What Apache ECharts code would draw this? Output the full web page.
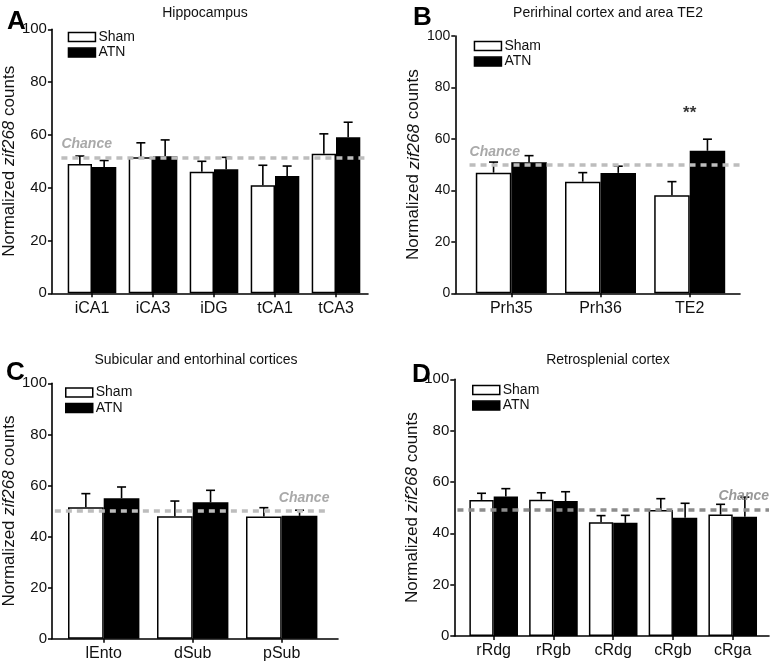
<!DOCTYPE html>
<html>
<head>
<meta charset="utf-8">
<script src="https://cdn.jsdelivr.net/npm/echarts@6/dist/echarts.min.js"></script>
<style>
  html, body { margin: 0; padding: 0; background: #fff; }
  #chart { width: 772px; height: 663px; }
</style>
</head>
<body>
<div id="chart"></div>
<script>
// ---- data ----
var aCats = ['iCA1', 'iCA3', 'iDG', 'tCA1', 'tCA3'];
var aSham = [49.0, 51.5, 46.0, 40.9, 52.9];
var aShamSem = [3.0, 5.5, 4.0, 7.6, 7.5];
var aAtn = [47.8, 51.9, 47.0, 44.4, 59.1];
var aAtnSem = [2.5, 6.2, 4.5, 3.8, 5.7];
var aChance = 51.5;

var bCats = ['Prh35', 'Prh36', 'TE2'];
var bSham = [46.9, 43.4, 38.1];
var bShamSem = [4.1, 3.5, 5.3];
var bAtn = [50.9, 46.8, 55.4];
var bAtnSem = [2.6, 2.6, 4.5];
var bChance = 50;
var bSig = ['', '', '**'];

var cCats = ['lEnto', 'dSub', 'pSub'];
var cSham = [51.5, 47.9, 47.8];
var cShamSem = [5.3, 6.0, 3.5];
var cAtn = [55.0, 53.4, 48.1];
var cAtnSem = [4.4, 4.7, 2.2];
var cChance = 50;

var dCats = ['rRdg', 'rRgb', 'cRdg', 'cRgb', 'cRga'];
var dSham = [53.0, 53.1, 44.3, 49.1, 47.3];
var dShamSem = [2.6, 2.7, 2.6, 4.4, 4.0];
var dAtn = [54.3, 52.6, 44.1, 46.1, 46.5];
var dAtnSem = [3.1, 3.6, 2.9, 5.6, 7.6];
var dChance = 49.3;

var yTicks = [0, 20, 40, 60, 80, 100];

// ---- layout of each panel (pixels) ----
var FONT = '"Liberation Sans", Arial, sans-serif';
var panels = [
  { letter: 'A', title: 'Hippocampus', titleX: 200, titleY: 1, letterX: 2, letterY: 4,
    cats: aCats, sham: aSham, shamSem: aShamSem, atn: aAtn, atnSem: aAtnSem, chance: aChance,
    axisL: 48, axisR: 368, top: 29.3, bottom: 293.3, barL: 61.5, barR: 366.5, bw: 24.3,
    nameGap: 30, tickFont: 15, legL: 67.7, legT: 30, chanceCol: '#bdbdbd', chanceTxt: '#a9a9a9',
    chanceFrom: 3, chanceTo: 100, chancePos: 'insideStartTop' },
  { letter: 'B', title: 'Perirhinal cortex and area TE2', titleX: 603, titleY: 1, letterX: 408, letterY: 0,
    cats: bCats, sham: bSham, shamSem: bShamSem, atn: bAtn, atnSem: bAtnSem, chance: bChance, sig: bSig,
    axisL: 455.3, axisR: 740, top: 36, bottom: 293.3, barL: 466.7, barR: 734.3, bw: 35.5,
    nameGap: 33, tickFont: 14, legL: 473.7, legT: 39, chanceCol: '#bdbdbd', chanceTxt: '#a9a9a9',
    chanceFrom: 5, chanceTo: 100, chancePos: 'insideStartTop' },
  { letter: 'C', title: 'Subicular and entorhinal cortices', titleX: 191, titleY: 348, letterX: 1, letterY: 355,
    cats: cCats, sham: cSham, shamSem: cShamSem, atn: cAtn, atnSem: cAtnSem, chance: cChance,
    axisL: 50.7, axisR: 338, top: 383.3, bottom: 638.7, barL: 59.2, barR: 326.2, bw: 35.7,
    nameGap: 34, tickFont: 15, legL: 65, legT: 385.5, chanceCol: '#bdbdbd', chanceTxt: '#a9a9a9',
    chanceFrom: 1, chanceTo: 97, chancePos: 'insideEndTop' },
  { letter: 'D', title: 'Retrosplenial cortex', titleX: 603, titleY: 348, letterX: 407, letterY: 357,
    cats: dCats, sham: dSham, shamSem: dShamSem, atn: dAtn, atnSem: dAtnSem, chance: dChance,
    axisL: 454.3, axisR: 769, top: 379.3, bottom: 636, barL: 463.8, barR: 762.6, bw: 24.3,
    nameGap: 32, tickFont: 15, legL: 472, legT: 383, chanceCol: '#8c8c8c', chanceTxt: '#9a9a9a',
    chanceFrom: 1, chanceTo: 100, chancePos: 'insideEndTop' }
];

var W = 772, H = 663;

function errRender(offset, cap) {
  return function (params, api) {
    var base = api.coord([api.value(0), api.value(1)]);
    var top = api.coord([api.value(0), api.value(2)]);
    var x = base[0] + offset;
    var st = { stroke: '#000', lineWidth: 1.6 };
    return {
      type: 'group',
      children: [
        { type: 'line', shape: { x1: x, y1: base[1], x2: x, y2: top[1] }, style: st },
        { type: 'line', shape: { x1: x - cap, y1: top[1], x2: x + cap, y2: top[1] }, style: st }
      ]
    };
  };
}

function errData(means, sems) {
  return means.map(function (m, i) { return [i, m, m + sems[i]]; });
}

var option = {
  animation: false,
  backgroundColor: '#fff',
  title: [], grid: [], xAxis: [], yAxis: [], legend: [], series: []
};

panels.forEach(function (p, k) {
  var gFrame = k * 2, gBars = k * 2 + 1;
  var bottomPx = H - p.bottom;

  option.title.push({
    text: p.title, left: p.titleX, top: p.titleY, textAlign: 'center',
    textStyle: { fontFamily: FONT, fontSize: 14, fontWeight: 'normal', color: '#111' }
  });
  option.title.push({
    text: p.letter, left: p.letterX, top: p.letterY,
    textStyle: { fontFamily: FONT, fontSize: 26, fontWeight: 'bold', color: '#000' }
  });

  // frame grid: y axis and the bottom axis line
  option.grid.push({ left: p.axisL, width: p.axisR - p.axisL, top: p.top, bottom: bottomPx });
  // bar grid: category bands
  option.grid.push({ left: p.barL, width: p.barR - p.barL, top: p.top, bottom: bottomPx });

  option.xAxis.push({
    type: 'value', gridIndex: gFrame, min: 0, max: 100,
    axisLine: { show: true, lineStyle: { color: '#000', width: 1.6 } },
    axisTick: { show: false }, axisLabel: { show: false }, splitLine: { show: false }
  });
  option.xAxis.push({
    type: 'category', gridIndex: gBars, data: p.cats,
    axisLine: { show: false },
    axisTick: { show: true, alignWithLabel: true, length: 4, lineStyle: { color: '#000', width: 1.5 } },
    axisLabel: { fontFamily: FONT, fontSize: 16, color: '#111', margin: 7 },
    splitLine: { show: false }
  });

  option.yAxis.push({
    type: 'value', gridIndex: gFrame, min: 0, max: 100, interval: 20,
    name: '{n|Normalized }{i|zif268}{n| counts}',
    nameLocation: 'middle', nameRotate: 90, nameGap: p.nameGap,
    nameTextStyle: {
      rich: {
        n: { fontFamily: FONT, fontSize: 17, color: '#111' },
        i: { fontFamily: FONT, fontSize: 17, fontStyle: 'italic', color: '#111' }
      }
    },
    axisLine: { show: true, lineStyle: { color: '#000', width: 1.6 } },
    axisTick: { show: true, length: 4, lineStyle: { color: '#000', width: 1.5 } },
    axisLabel: {
      fontFamily: FONT, fontSize: p.tickFont, color: '#111', margin: 5,
      formatter: function (v) { return yTicks.indexOf(v) >= 0 ? String(v) : ''; }
    },
    splitLine: { show: false }
  });
  option.yAxis.push({ type: 'value', gridIndex: gBars, min: 0, max: 100, show: false });

  option.legend.push({
    orient: 'vertical', left: p.legL, top: p.legT,
    itemWidth: 27, itemHeight: 9, itemGap: 1.6, padding: 0,
    textStyle: { fontFamily: FONT, fontSize: 14, color: '#111', lineHeight: 14, padding: [0, 0, 0, -2] },
    data: [
      { name: 'Sham', icon: 'rect', itemStyle: { color: '#fff', borderColor: '#000', borderWidth: 1.5 } },
      { name: 'ATN', icon: 'rect', itemStyle: { color: '#000', borderColor: '#000', borderWidth: 1.5 } }
    ]
  });

  // chance line (behind the bars)
  option.series.push({
    type: 'line', xAxisIndex: gFrame, yAxisIndex: gFrame, data: [], z: 1,
    silent: true,
    markLine: {
      symbol: 'none', silent: true, animation: false,
      lineStyle: { color: p.chanceCol, type: [6, 5], width: 3.5 },
      label: {
        show: true, position: p.chancePos, formatter: 'Chance', distance: [0, 6],
        fontFamily: FONT, fontSize: 14, fontStyle: 'italic', fontWeight: 'bold', color: p.chanceTxt
      },
      data: [[{ coord: [p.chanceFrom, p.chance] }, { coord: [p.chanceTo, p.chance] }]]
    }
  });

  option.series.push({
    name: 'Sham', type: 'bar', xAxisIndex: gBars, yAxisIndex: gBars, z: 3,
    barWidth: p.bw, barGap: '0%', data: p.sham,
    itemStyle: { color: '#fff', borderColor: '#000', borderWidth: 1.5 }
  });
  option.series.push({
    name: 'ATN', type: 'bar', xAxisIndex: gBars, yAxisIndex: gBars, z: 3,
    barWidth: p.bw, barGap: '0%', data: p.atn,
    itemStyle: { color: '#000', borderColor: '#000', borderWidth: 1.5 }
  });
  option.series.push({
    type: 'custom', xAxisIndex: gBars, yAxisIndex: gBars, z: 4, silent: true,
    renderItem: errRender(-p.bw / 2, 4.5), data: errData(p.sham, p.shamSem)
  });
  option.series.push({
    type: 'custom', xAxisIndex: gBars, yAxisIndex: gBars, z: 4, silent: true,
    renderItem: errRender(p.bw / 2, 4.5), data: errData(p.atn, p.atnSem)
  });

  if (p.sig) {
    option.series.push({
      type: 'scatter', xAxisIndex: gBars, yAxisIndex: gBars, z: 5, silent: true,
      symbolSize: 0,
      data: p.sig.map(function (s, i) { return s ? [i, p.atn[i] + p.atnSem[i] + 10] : null; }).filter(Boolean),
      label: {
        show: true, position: 'inside',
        formatter: function (d) { return p.sig[d.value[0]]; },
        fontFamily: FONT, fontSize: 17, fontWeight: 'bold', color: '#000'
      }
    });
  }
});

var chart = echarts.init(document.getElementById('chart'), null, { renderer: 'canvas' });
chart.setOption(option);
</script>
</body>
</html>
